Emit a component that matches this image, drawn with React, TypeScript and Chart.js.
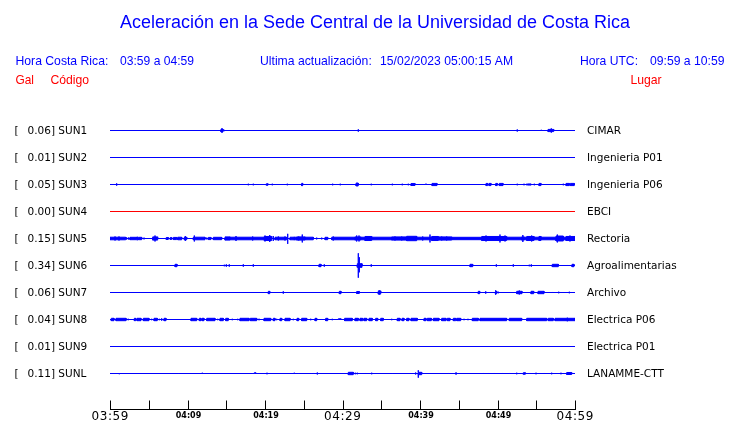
import { useEffect, useRef } from "react";
import { Chart, registerables } from "chart.js";

Chart.register(...registerables);

// ---------- data ----------
const STATION_CODES = ["SUN1", "SUN2", "SUN3", "SUN4", "SUN5", "SUN6", "SUN7", "SUN8", "SUN9", "SUNL"];
const PEAK_GAL = [0.06, 0.01, 0.05, 0.0, 0.15, 0.34, 0.06, 0.04, 0.01, 0.11];
const PLACES = [
  "CIMAR",
  "Ingenieria P01",
  "Ingenieria P06",
  "EBCI",
  "Rectoria",
  "Agroalimentarias",
  "Archivo",
  "Electrica P06",
  "Electrica P01",
  "LANAMME-CTT",
];
const TRACE_COLORS = ["#0000ff", "#0000ff", "#0000ff", "#ff0000", "#0000ff", "#0000ff", "#0000ff", "#0000ff", "#0000ff", "#0000ff"];

// minutes after 03:59 (x axis) and tick labels
const X_TICK_MINUTES = [0, 5, 10, 15, 20, 25, 30, 35, 40, 45, 50, 55, 60];
const X_TICK_LABELS = ["03:59", "", "04:09", "", "04:19", "", "04:29", "", "04:39", "", "04:49", "", "04:59"];
const X_MAJOR_TICKS = [0, 30, 60];

const HEADER_TITLE = "Aceleración en la Sede Central de la Universidad de Costa Rica";
const HEADER_CR_LABEL = "Hora Costa Rica:";
const HEADER_CR_RANGE = "03:59 a 04:59";
const HEADER_UPDATE_LABEL = "Ultima actualización:";
const HEADER_UPDATE_VALUE = "15/02/2023 05:00:15 AM";
const HEADER_UTC_LABEL = "Hora UTC:";
const HEADER_UTC_RANGE = "09:59 a 10:59";
const COL_GAL = "Gal";
const COL_CODE = "Código";
const COL_PLACE = "Lugar";

// bursts: [startMinute, endMinute, upGal, downGal(optional = up)]
type Burst = number[];
const SUN1_BURSTS: Burst[] = [
  [14.32, 14.45, 0.04], [14.45, 14.45, 0.06], [14.45, 14.58, 0.04], [14.71, 14.71, 0.02],
  [32.04, 32.04, 0.033], [52.55, 52.55, 0.03], [55.65, 55.65, 0.02, 0],
  [56.52, 56.94, 0.03], [56.94, 56.94, 0.06], [56.94, 57.25, 0.03],
];
const SUN2_BURSTS: Burst[] = [];
const SUN3_BURSTS: Burst[] = [
  [0.86, 0.86, 0.033], [15.14, 15.14, 0.014, 0], [17.85, 17.85, 0.022], [18.49, 18.49, 0.022], [19.27, 19.27, 0, 0.014],
  [20.17, 20.39, 0.02], [20.94, 20.94, 0.022], [22.88, 22.88, 0.022], [24.3, 24.3, 0, 0.014], [24.73, 24.86, 0.033],
  [28.73, 28.73, 0.022], [29.71, 29.71, 0.022], [31.74, 31.88, 0.035], [31.88, 31.88, 0.05], [31.88, 32.04, 0.035],
  [33.71, 33.71, 0.022], [34.49, 34.49, 0.014, 0], [36.43, 36.43, 0.022], [37.71, 37.71, 0.022], [38.49, 38.49, 0.022],
  [38.84, 39.35, 0.028], [40.68, 40.86, 0.014, 0], [41.55, 42.19, 0.03], [48.52, 48.73, 0.03], [48.9, 49.16, 0.03],
  [49.77, 49.97, 0.03], [50.23, 50.71, 0.03], [52.55, 52.55, 0.022], [53.42, 53.42, 0.022],
  [53.81, 53.81, 0.025], [53.98, 53.98, 0.025], [54.15, 54.15, 0.025], [54.28, 54.28, 0.025],
  [54.75, 54.75, 0.022], [55.13, 55.13, 0.014, 0], [55.35, 55.61, 0.03], [58.49, 58.49, 0.022],
  [58.84, 59.27, 0.03], [59.39, 59.91, 0.03],
];
const SUN4_BURSTS: Burst[] = [];
const SUN5_BURSTS: Burst[] = [
  [0, 0.65, 0.036], [0.65, 0.65, 0.056], [0.65, 1.16, 0.036], [1.16, 1.16, 0.056], [1.16, 2.03, 0.036],
  [2.15, 2.15, 0.03], [2.41, 2.41, 0.03], [2.58, 3.44, 0.033], [3.52, 3.52, 0.05], [3.65, 4.09, 0.033], [4.39, 4.39, 0.025],
  [5.51, 5.81, 0.045], [5.81, 5.81, 0.083], [5.81, 6.15, 0.045],
  [7.0, 7.0, 0.014, 0], [7.26, 7.52, 0.028], [7.78, 7.96, 0.028], [8.17, 8.61, 0.03], [8.74, 9.25, 0.036],
  [9.59, 9.72, 0.036], [9.72, 9.72, 0.069], [9.72, 9.9, 0.036],
  [10.75, 10.88, 0.036], [10.88, 10.88, 0.083], [10.88, 12.26, 0.036],
  [12.48, 12.48, 0.025], [12.68, 13.03, 0.03], [13.33, 14.41, 0.033],
  [14.84, 15.48, 0.045], [15.48, 16.26, 0.036], [16.26, 16.26, 0.069], [16.26, 18.41, 0.036], [18.41, 18.41, 0.056], [18.41, 19.91, 0.036],
  [19.91, 20.0, 0.056], [20.0, 20.0, 0.083], [20.0, 20.61, 0.056], [20.61, 20.61, 0.097], [20.61, 20.86, 0.056],
  [21.07, 21.07, 0.069],
  [21.29, 21.72, 0.036], [21.72, 21.72, 0.056], [21.72, 22.58, 0.036], [22.58, 22.58, 0.056], [22.58, 22.8, 0.036],
  [22.93, 22.93, 0.13, 0.15],
  [23.23, 23.78, 0.036], [23.78, 23.78, 0.045], [23.78, 24.09, 0.036],
  [24.09, 24.35, 0.045], [24.35, 24.35, 0.056], [24.35, 24.81, 0.045], [24.81, 24.81, 0.11], [24.81, 25.16, 0.045],
  [25.16, 26.23, 0.036], [26.67, 26.67, 0.025], [27.32, 27.32, 0.025], [27.74, 28.09, 0.033],
  [28.61, 28.81, 0.036], [28.81, 28.81, 0.056], [28.81, 31.61, 0.036],
  [31.61, 31.83, 0.045], [31.83, 31.83, 0.083], [31.83, 32.13, 0.045], [32.13, 32.13, 0.083], [32.13, 32.35, 0.045],
  [32.35, 32.9, 0.036], [32.9, 33.77, 0.056], [33.77, 36.35, 0.036],
  [36.35, 36.77, 0.045], [36.77, 36.77, 0.056], [36.77, 37.64, 0.045], [37.64, 37.64, 0.056], [37.64, 38.28, 0.045],
  [38.28, 39.57, 0.061], [39.57, 40.35, 0.036], [40.35, 40.35, 0.056], [40.35, 41.29, 0.036], [41.29, 41.29, 0.11],
  [41.29, 41.51, 0.036], [41.51, 42.36, 0.056],
  [42.36, 42.8, 0.045], [42.8, 42.8, 0.056], [42.8, 43.44, 0.045], [43.44, 43.44, 0.056], [43.44, 44.09, 0.045],
  [44.09, 47.96, 0.033],
  [47.96, 48.52, 0.056], [48.52, 48.52, 0.083], [48.52, 50.32, 0.056], [50.32, 50.32, 0.11], [50.32, 50.97, 0.056],
  [50.97, 50.97, 0.083], [50.97, 51.18, 0.056],
  [51.18, 53.12, 0.036], [53.12, 53.27, 0.045], [53.27, 53.27, 0.097], [53.27, 53.42, 0.045], [53.42, 53.77, 0.036],
  [53.77, 54.41, 0.056], [54.41, 54.41, 0.083], [54.41, 54.71, 0.056],
  [54.71, 55.35, 0.036], [55.35, 55.61, 0.056], [55.61, 57.55, 0.036],
  [57.55, 57.72, 0.069], [57.72, 57.72, 0.11], [57.72, 58.49, 0.069],
  [58.49, 58.84, 0.036], [58.84, 59.35, 0.056], [59.35, 59.35, 0.083], [59.35, 59.78, 0.056], [59.78, 59.78, 0.069], [59.78, 60, 0.056],
];
const SUN6_BURSTS: Burst[] = [
  [8.39, 8.65, 0.033], [14.75, 14.75, 0.022], [15.01, 15.01, 0.033], [15.39, 15.39, 0.033], [17.2, 17.2, 0.033], [18.49, 18.49, 0.033],
  [26.97, 27.23, 0.033], [27.65, 27.65, 0.033],
  [31.91, 32.04, 0.05], [32.04, 32.04, 0.34], [32.04, 32.17, 0.06], [32.17, 32.17, 0.23, 0.19], [32.17, 32.52, 0.05],
  [33.71, 33.71, 0.033], [46.45, 46.8, 0.033], [49.85, 49.85, 0.033], [52.04, 52.04, 0.033], [54.1, 54.1, 0.022], [54.36, 54.36, 0.033],
  [56.55, 56.55, 0.014], [57.07, 57.85, 0.033], [59.01, 59.01, 0.014], [59.61, 59.87, 0.033],
];
const SUN7_BURSTS: Burst[] = [
  [13.07, 13.07, 0, 0.014], [20.43, 20.61, 0.033], [22.36, 22.36, 0.033], [29.59, 29.81, 0.033], [31.83, 32.17, 0.028],
  [34.62, 34.75, 0.045], [34.75, 34.75, 0.06], [34.75, 34.93, 0.045],
  [40.3, 40.3, 0.014, 0], [46.45, 46.45, 0.014, 0], [47.52, 47.7, 0.033], [48.48, 48.48, 0.033],
  [49.68, 49.77, 0.033], [49.77, 49.77, 0.061], [49.77, 49.9, 0.033], [50.1, 50.1, 0.022],
  [52.48, 52.81, 0.033], [52.81, 52.81, 0.056], [52.81, 53.16, 0.033],
  [54.32, 54.67, 0.033], [55.23, 56.0, 0.033], [57.07, 57.07, 0.014], [57.9, 57.9, 0.022], [59.27, 59.27, 0.022],
];
const SUN8_BURSTS: Burst[] = [
  [0.13, 0.13, 0.02], [0.22, 0.52, 0.033], [0.77, 2.06, 0.033], [2.15, 2.15, 0.02], [2.36, 2.36, 0.02],
  [3.14, 3.32, 0.033], [3.48, 4.0, 0.033], [4.3, 5.03, 0.033], [5.38, 5.38, 0.02], [5.68, 6.1, 0.033], [6.36, 6.36, 0.02],
  [6.67, 6.67, 0.033], [6.97, 7.23, 0.033],
  [10.45, 11.19, 0.033], [11.52, 11.74, 0.033], [11.87, 12.13, 0.033], [12.48, 13.55, 0.033], [13.9, 13.9, 0.02],
  [14.19, 14.62, 0.033], [14.93, 15.26, 0.033],
  [15.78, 15.78, 0.02], [16.48, 16.48, 0.02], [16.77, 17.94, 0.033], [18.1, 18.93, 0.033], [19.23, 19.23, 0.022],
  [19.87, 20.74, 0.033], [21.07, 21.29, 0.033],
  [21.51, 21.51, 0.02], [21.94, 22.16, 0.033], [22.58, 23.23, 0.033], [23.65, 23.65, 0.02], [24.13, 24.35, 0.033],
  [24.73, 25.38, 0.033], [25.9, 25.9, 0.022],
  [26.45, 26.67, 0.033], [27.32, 27.32, 0.014, 0], [27.83, 28.09, 0.033], [28.68, 28.68, 0.02], [29.46, 29.81, 0.02, 0],
  [30.23, 30.23, 0.02],
  [30.32, 31.26, 0.033], [31.61, 31.83, 0.033], [31.83, 31.83, 0.042], [31.83, 32.04, 0.033], [32.26, 32.61, 0.033],
  [32.77, 33.12, 0.033], [33.42, 33.84, 0.033],
  [34.28, 34.54, 0.033], [34.93, 35.26, 0.033], [36.35, 36.35, 0.02], [37.07, 37.42, 0.033], [37.68, 37.94, 0.033],
  [38.28, 38.58, 0.033], [38.84, 39.65, 0.033],
  [40.52, 40.77, 0.033], [40.94, 41.46, 0.033], [41.72, 42.45, 0.033], [42.8, 43.35, 0.033], [43.52, 43.87, 0.033],
  [44.3, 44.61, 0.033], [44.74, 45.25, 0.033],
  [45.68, 45.68, 0.02], [46.19, 46.19, 0.02], [46.75, 47.52, 0.033], [47.74, 51.18, 0.033], [51.52, 53.12, 0.033],
  [53.77, 56.35, 0.033], [56.55, 57.2, 0.033],
  [57.42, 59.01, 0.033], [59.01, 59.01, 0.05], [59.01, 60, 0.033],
];
const SUN9_BURSTS: Burst[] = [];
const SUNL_BURSTS: Burst[] = [
  [1.2, 1.2, 0, 0.02], [8.81, 8.81, 0, 0.014], [11.91, 11.91, 0.022, 0], [18.41, 18.41, 0, 0.014], [18.62, 18.8, 0.022, 0],
  [20.26, 20.26, 0.022],
  [23.78, 23.78, 0.022, 0], [24.3, 24.3, 0, 0.014], [26.03, 26.03, 0, 0.014], [26.23, 26.23, 0.014, 0], [26.75, 26.75, 0.028],
  [30.75, 31.39, 0.033], [31.65, 31.65, 0.022], [31.91, 31.91, 0.022], [33.03, 33.03, 0.014], [33.77, 33.77, 0.022],
  [36.43, 36.43, 0, 0.014],
  [39.44, 39.44, 0.028], [39.78, 39.78, 0.09, 0.117], [39.78, 40.22, 0.033], [43.65, 43.65, 0.014, 0], [44.65, 44.65, 0.033],
  [48.17, 48.17, 0.014], [48.9, 48.9, 0.014], [49.55, 49.55, 0.014], [50.67, 50.67, 0.014], [51.52, 51.52, 0.014, 0],
  [52.48, 52.48, 0.022], [53.33, 53.59, 0.022], [54.19, 54.19, 0.014], [54.97, 54.97, 0.022], [56.0, 56.0, 0.014, 0],
  [56.99, 56.99, 0.022], [58.19, 58.19, 0.022], [58.93, 59.57, 0.028], [59.78, 59.78, 0.014],
];
const STATION_BURSTS: Burst[][] = [
  SUN1_BURSTS, SUN2_BURSTS, SUN3_BURSTS, SUN4_BURSTS, SUN5_BURSTS,
  SUN6_BURSTS, SUN7_BURSTS, SUN8_BURSTS, SUN9_BURSTS, SUNL_BURSTS,
];

// vertical spacing between station baselines, in Gal
const ROW_GAL = 0.75;
const X_MIN = 0;
const X_MAX = 60;

function envelope(bursts: Burst[], base: number, sign: number) {
  const sorted = [...bursts].sort((a, b) => a[0] - b[0]);
  const pts: { x: number; y: number }[] = [{ x: X_MIN, y: base }];
  for (const b of sorted) {
    const t0 = b[0];
    const t1 = b[1];
    const up = b[2];
    const down = b.length > 3 ? b[3] : b[2];
    const a = sign > 0 ? up : -down;
    pts.push({ x: t0, y: base }, { x: t0, y: base + a }, { x: t1, y: base + a }, { x: t1, y: base });
  }
  pts.push({ x: X_MAX, y: base });
  return pts;
}

export default function App() {
  const canvasRef = useRef<HTMLCanvasElement | null>(null);

  useEffect(() => {
    document.body.style.margin = "0";
    const canvas = canvasRef.current;
    if (!canvas) return;

    const datasets: any[] = [];
    STATION_BURSTS.forEach((bursts, i) => {
      const base = -i * ROW_GAL;
      const color = TRACE_COLORS[i];
      datasets.push({
        data: envelope(bursts, base, 1),
        borderColor: color,
        backgroundColor: color,
        borderWidth: 1,
        pointRadius: 0,
        fill: false,
        tension: 0,
      });
      datasets.push({
        data: envelope(bursts, base, -1),
        borderColor: color,
        backgroundColor: color,
        borderWidth: 1,
        pointRadius: 0,
        fill: "-1",
        tension: 0,
      });
    });

    const textPlugin = {
      id: "seismoText",
      afterDraw(chart: any) {
        const ctx: CanvasRenderingContext2D = chart.ctx;
        const xs = chart.scales.x;
        const ys = chart.scales.y;
        const area = chart.chartArea;
        ctx.save();

        // header
        ctx.textBaseline = "alphabetic";
        ctx.fillStyle = "#0000ff";
        ctx.font = '18px "Liberation Sans", Arial, sans-serif';
        ctx.textAlign = "center";
        ctx.fillText(HEADER_TITLE, 375, 28, 510);
        ctx.textAlign = "left";
        ctx.font = '12.2px "Liberation Sans", Arial, sans-serif';
        ctx.fillText(HEADER_CR_LABEL, 15.5, 65, 93.5);
        ctx.fillText(HEADER_CR_RANGE, 120, 65, 74);
        ctx.fillText(HEADER_UPDATE_LABEL, 260, 65, 112);
        ctx.fillText(HEADER_UPDATE_VALUE, 380, 65, 133);
        ctx.fillText(HEADER_UTC_LABEL, 580, 65, 58);
        ctx.fillText(HEADER_UTC_RANGE, 650, 65, 74.5);
        ctx.fillStyle = "#ff0000";
        ctx.fillText(COL_GAL, 15.5, 84, 18.5);
        ctx.fillText(COL_CODE, 50.5, 84, 39);
        ctx.fillText(COL_PLACE, 630.5, 84, 31.5);

        // station labels
        ctx.fillStyle = "#000000";
        ctx.font = '10.5px "DejaVu Sans", sans-serif';
        STATION_CODES.forEach((code, i) => {
          const y = ys.getPixelForValue(-i * ROW_GAL) + 3.8;
          ctx.textAlign = "left";
          ctx.fillText("[", 14.5, y);
          ctx.fillText(`${PEAK_GAL[i].toFixed(2)}] ${code}`, 27.5, y);
          ctx.fillText(PLACES[i], 587, y);
        });

        // time axis
        const axisY = Math.round(area.bottom) + 0.5;
        ctx.strokeStyle = "#000000";
        ctx.lineWidth = 1;
        ctx.beginPath();
        ctx.moveTo(Math.round(xs.getPixelForValue(X_MIN)), axisY);
        ctx.lineTo(Math.round(xs.getPixelForValue(X_MAX)) + 1, axisY);
        X_TICK_MINUTES.forEach((m) => {
          const x = Math.round(xs.getPixelForValue(m)) + 0.5;
          ctx.moveTo(x, axisY);
          ctx.lineTo(x, axisY - 9);
        });
        ctx.stroke();

        ctx.textAlign = "center";
        X_TICK_MINUTES.forEach((m, k) => {
          const label = X_TICK_LABELS[k];
          if (!label) return;
          const x = xs.getPixelForValue(m);
          if (X_MAJOR_TICKS.includes(m)) {
            ctx.font = '12px "DejaVu Sans", sans-serif';
            (ctx as any).letterSpacing = "0.6px";
            ctx.fillText(label, x + 0.3, axisY + 10.5);
          } else {
            ctx.font = 'bold 8px "DejaVu Sans", sans-serif';
            (ctx as any).letterSpacing = "0px";
            ctx.fillText(label, x + 1, axisY + 8);
          }
        });
        (ctx as any).letterSpacing = "0px";
        ctx.restore();
      },
    };

    const rowsInArea = 306 / 27;
    const yMax = ROW_GAL * (27.5 / 27);
    const yMin = yMax - rowsInArea * ROW_GAL;

    const chart = new Chart(canvas, {
      type: "line",
      data: { datasets },
      options: {
        animation: false,
        responsive: false,
        events: [],
        layout: { padding: { left: 110, right: 165, top: 103, bottom: 14 } },
        plugins: {
          legend: { display: false },
          tooltip: { enabled: false },
        },
        scales: {
          x: { type: "linear", min: X_MIN, max: X_MAX, display: false },
          y: { type: "linear", min: yMin, max: yMax, display: false },
        },
        elements: {
          line: { borderJoinStyle: "miter", borderCapStyle: "butt" },
          point: { radius: 0 },
        },
      },
      plugins: [textPlugin],
    });

    return () => {
      chart.destroy();
    };
  }, []);

  return (
    <div style={{ position: "absolute", left: 0, top: 0, width: 740, height: 423, background: "#ffffff" }}>
      <canvas ref={canvasRef} width={740} height={423} style={{ display: "block" }} />
    </div>
  );
}
